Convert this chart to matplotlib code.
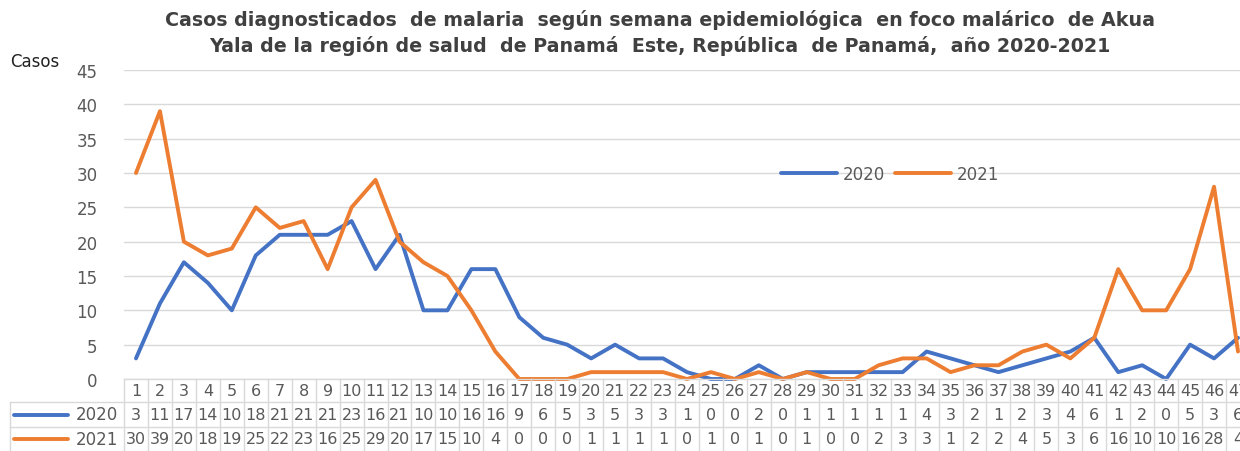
import numpy as np
import matplotlib.pyplot as plt
from matplotlib.transforms import blended_transform_factory

# Data
weeks = list(range(1, 48))
cases_2020 = [3, 11, 17, 14, 10, 18, 21, 21, 21, 23, 16, 21, 10, 10, 16, 16, 9, 6, 5, 3,
              5, 3, 3, 1, 0, 0, 2, 0, 1, 1, 1, 1, 1, 4, 3, 2, 1, 2, 3, 4, 6, 1, 2, 0, 5, 3, 6]
cases_2021 = [30, 39, 20, 18, 19, 25, 22, 23, 16, 25, 29, 20, 17, 15, 10, 4, 0, 0, 0, 1,
              1, 1, 1, 0, 1, 0, 1, 0, 1, 0, 0, 2, 3, 3, 1, 2, 2, 4, 5, 3, 6, 16, 10, 10, 16, 28, 4]
series_names = ['2020', '2021']
colors = ['#4472C4', '#ED7D31']

title = ('Casos diagnosticados  de malaria  según semana epidemiológica  en foco malárico  de Akua\n'
         'Yala de la región de salud  de Panamá  Este, República  de Panamá,  año 2020-2021')

W, H = 1240, 452
fig = plt.figure(figsize=(W / 100, H / 100), dpi=100)
# plot area in pixels: x 124..1250, y 71..380 (the chart is cropped on the right)
ax = fig.add_axes([124 / W, 1 - 380 / H, (1250 - 124) / W, (380 - 71) / H])

grey = '#595959'
grid = '#d9d9d9'

for vals, name, c in zip([cases_2020, cases_2021], series_names, colors):
    ax.plot(weeks, vals, color=c, lw=2.8, label=name, solid_capstyle='round', clip_on=False)

ax.set_xlim(0.5, len(weeks) + 0.5)
ax.set_ylim(0, 45)
ax.set_yticks(np.arange(0, 46, 5))
ax.set_xticks([])
ax.grid(axis='y', color=grid, lw=1)
ax.set_axisbelow(True)
for s in ax.spines.values():
    s.set_visible(False)
ax.tick_params(axis='y', length=0, labelsize=12, labelcolor=grey, pad=19)

ax.legend(loc='center', bbox_to_anchor=(0.68, 0.663), ncol=2, frameon=False,
          fontsize=12, labelcolor=grey, handlelength=3.4, handletextpad=0.3,
          columnspacing=0.6)

fig.text(10 / W, 1 - 62 / H, 'Casos', fontsize=12, color='#222222', va='center', ha='left')
fig.text(660 / W, 1 - 33 / H, title, fontsize=13.7, fontweight='bold', color='#404040',
         ha='center', va='center', linespacing=1.35)

# data table under the plot
tr = blended_transform_factory(ax.transData, fig.transFigure)
fy = lambda px: 1 - px / H
rows_y = [380, 403, 428, 452]
x0, x1 = 0.5, len(weeks) + 0.5
# horizontal lines
ax.plot([x0, x1], [fy(380), fy(380)], color=grid, lw=1, transform=tr, clip_on=False)
for py in rows_y[1:3]:
    fig.add_artist(plt.Line2D([10 / W, 1], [fy(py), fy(py)], color=grid, lw=1))
# vertical lines
for k in range(len(weeks) + 1):
    ax.plot([x0 + k, x0 + k], [fy(380), fy(452)], color=grid, lw=1, transform=tr, clip_on=False)
fig.add_artist(plt.Line2D([10 / W, 10 / W], [fy(403), 0], color=grid, lw=1))

row_centers = [391.5, 415.5, 440]
for w, a, b in zip(weeks, cases_2020, cases_2021):
    for val, py in zip([w, a, b], row_centers):
        ax.text(w, fy(py), str(val), transform=tr, ha='center', va='center',
                fontsize=11.5, color=grey, clip_on=False)

for name, c, py in zip(series_names, colors, row_centers[1:]):
    fig.add_artist(plt.Line2D([14 / W, 68 / W], [fy(py), fy(py)], color=c, lw=2.8,
                              solid_capstyle='round'))
    fig.text(118 / W, fy(py), name, fontsize=12, color=grey, ha='right', va='center')

fig.savefig('out.png', dpi=100)
